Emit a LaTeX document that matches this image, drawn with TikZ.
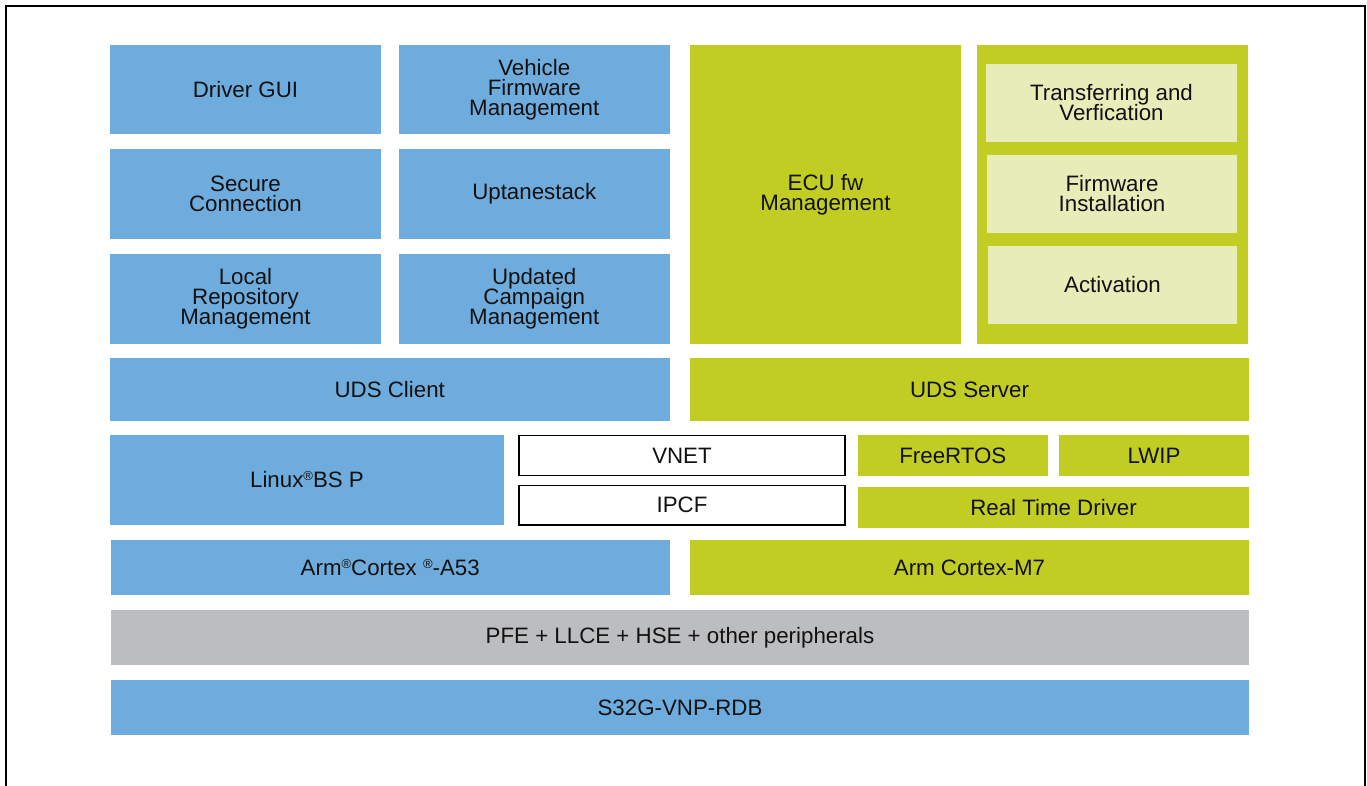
\documentclass[tikz,border=0pt]{standalone}
\usepackage{fontspec}
\setmainfont{Liberation Sans}
\definecolor{cblue}{HTML}{6EACDD}
\definecolor{cgreen}{HTML}{C1CD23}
\definecolor{cpale}{HTML}{E8ECB8}
\definecolor{cgray}{HTML}{BCBDBF}
\definecolor{ctext}{HTML}{111111}
\newcommand{\regm}{\raisebox{0.32em}{\fontsize{13}{13}\selectfont ®}}
\newcommand{\boxfont}{\fontsize{22.3}{20}\selectfont\setlength{\lineskiplimit}{-100pt}}
\tikzset{
  base/.style={rectangle, inner sep=0pt, outer sep=0pt, align=center, text=ctext,
    font=\boxfont},
  bluebox/.style={base, fill=cblue},
  greenbox/.style={base, fill=cgreen},
  palebox/.style={base, fill=cpale},
  graybox/.style={base, fill=cgray},
  whitebox/.style={base, fill=white, draw=black, line width=1.3pt},
  frameline/.style={draw=black, line width=2pt}
}
\begin{document}
\begin{tikzpicture}[x=1pt,y=-1pt]
\useasboundingbox (0,0) rectangle (1367,786);
\draw[frameline] (6,800) -- (6,6) -- (1365,6) -- (1365,800);
% blue application boxes
\node[bluebox, minimum width=271pt, minimum height=89.5pt] (drv) at (245.5,89.75) {Driver GUI};
\node[bluebox, minimum width=270.5pt, minimum height=89.5pt] (veh) at (534.25,89.75) {Vehicle\\Firmware\\Management};
\node[bluebox, minimum width=271pt, minimum height=90pt] (sec) at (245.5,194) {Secure\\Connection};
\node[bluebox, minimum width=270.5pt, minimum height=90pt] (upt) at (534.25,194) {Uptanestack};
\node[bluebox, minimum width=271pt, minimum height=89.7pt] (loc) at (245.5,298.85) {Local\\Repository\\Management};
\node[bluebox, minimum width=270.5pt, minimum height=89.7pt] (upd) at (534.25,298.85) {Updated\\Campaign\\Management};
% green ECU boxes
\node[greenbox, minimum width=271pt, minimum height=298.7pt] (ecu) at (825.5,194.35) {ECU fw\\Management};
\node[greenbox, minimum width=271pt, minimum height=298.7pt] (grp) at (1112.5,194.35) {};
\node[palebox, minimum width=251pt, minimum height=77.7pt] (trf) at (1111.5,102.85) {Transferring and\\Verfication};
\node[palebox, minimum width=250pt, minimum height=77.7pt] (fwi) at (1112,193.85) {Firmware\\Installation};
\node[palebox, minimum width=249pt, minimum height=78.3pt] (act) at (1112.5,284.85) {Activation};
% UDS
\node[bluebox, minimum width=559.5pt, minimum height=62.7pt] (udsc) at (389.75,389.35) {UDS Client};
\node[greenbox, minimum width=559pt, minimum height=62.7pt] (udss) at (969.5,389.35) {UDS Server};
% OS layer
\node[bluebox, minimum width=394pt, minimum height=89.7pt] (lin) at (307,479.85) {Linux\regm BS P};
\node[whitebox, minimum width=326pt, minimum height=39.6pt] (vnet) at (682,455.5) {VNET};
\node[whitebox, minimum width=326pt, minimum height=39.7pt] (ipcf) at (682,505.15) {IPCF};
\node[greenbox, minimum width=189.7pt, minimum height=40.7pt] (frt) at (952.85,455.35) {FreeRTOS};
\node[greenbox, minimum width=190pt, minimum height=40.7pt] (lwip) at (1154,455.35) {LWIP};
\node[greenbox, minimum width=391pt, minimum height=40.7pt] (rtd) at (1053.5,507.35) {Real Time Driver};
% cores
\node[bluebox, minimum width=558.5pt, minimum height=54.7pt] (a53) at (390.25,567.35) {Arm\regm Cortex \regm-A53};
\node[greenbox, minimum width=559pt, minimum height=54.7pt] (m7) at (969.5,567.35) {Arm Cortex-M7};
% hardware
\node[graybox, minimum width=1138pt, minimum height=54.7pt] (pfe) at (680,637.35) {PFE + LLCE + HSE + other peripherals};
\node[bluebox, minimum width=1138pt, minimum height=54.7pt] (s32) at (680,707.35) {S32G-VNP-RDB};
\end{tikzpicture}
\end{document}
